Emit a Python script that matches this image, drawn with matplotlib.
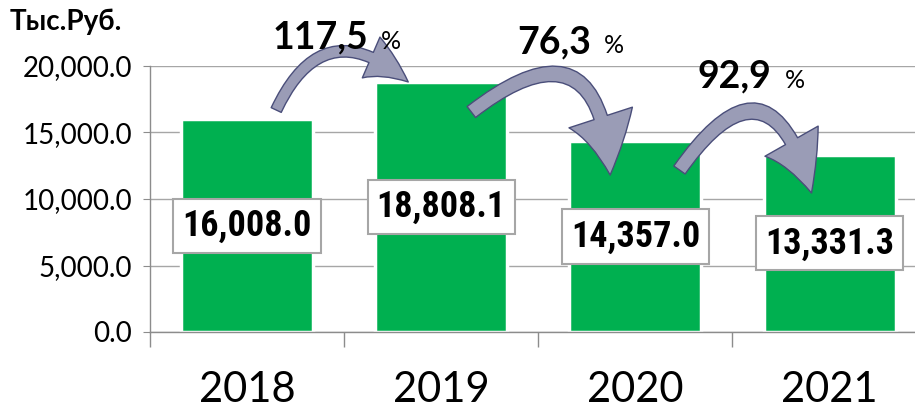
import matplotlib
matplotlib.use("Agg")
import matplotlib.pyplot as plt
from matplotlib import font_manager
from matplotlib.patches import FancyArrowPatch
from matplotlib.ticker import FixedLocator, FuncFormatter

# data
years = ["2018", "2019", "2020", "2021"]
values = [16008.0, 18808.1, 14357.0, 13331.3]
growth = ["117,5", "76,3", "92,9"]
unit_label = "Тыс.Руб."

# fonts
names = {f.name for f in font_manager.fontManager.ttflist}
def pick(*cands):
    for c in cands:
        if c in names:
            return [c, "DejaVu Sans"]
    return ["DejaVu Sans"]

main_font = pick("Lato", "Open Sans")
narrow_font = pick("Liberation Sans Narrow", "DejaVu Sans Condensed", "Roboto Condensed", "Lato")
plt.rcParams["font.family"] = main_font

fig = plt.figure(figsize=(9.15, 4.12), dpi=100)
ax = fig.add_axes([150/915, 80/412, 1 - 150/915, 266/412])

x = list(range(len(years)))
ax.bar(x, values, width=0.68, color="#00B050", edgecolor="white", linewidth=2.5, zorder=2)

ax.set_xlim(-0.5, 3.44)
ax.set_ylim(0, 20000)

# grid / spines
ax.yaxis.grid(True, color="#A6A6A6", linewidth=1, zorder=0)
ax.set_axisbelow(True)
for s in ["top", "right"]:
    ax.spines[s].set_visible(False)
for s in ["left", "bottom"]:
    ax.spines[s].set_color("#8C8C8C")
    ax.spines[s].set_linewidth(1)

ax.set_yticks([0, 5000, 10000, 15000, 20000])
ax.yaxis.set_major_formatter(FuncFormatter(lambda v, p: "{:,.1f}".format(v)))
ax.tick_params(axis="y", length=5, color="#8C8C8C", labelsize=20, pad=8)

ax.set_xticks(x)
ax.set_xticklabels(years, fontsize=30)
ax.tick_params(axis="x", which="major", length=0, pad=28)
ax.xaxis.set_minor_locator(FixedLocator([-0.5, 0.5, 1.5, 2.5]))
ax.tick_params(axis="x", which="minor", length=11, color="#8C8C8C", width=1)

# value labels in white boxes
for xi, v in zip(x, values):
    ax.text(xi, v / 2, "{:,.1f}".format(v), ha="center", va="center",
            fontsize=26, fontweight="bold", family=narrow_font, zorder=4,
            bbox=dict(boxstyle="square,pad=0.25", facecolor="white",
                      edgecolor="#A6A6A6", linewidth=1.5))

# unit label
fig.text(10/915, 1 - 22/412, unit_label, fontsize=20, fontweight="bold",
         ha="left", va="center")

# curved arrows
arrows = [((0.15, 16690), (0.83, 18800), -0.66, 32, 32, 8),
          ((1.155, 16540), (1.87, 11800), -0.95, 42, 48, 10),
          ((2.227, 12180), (2.907, 10450), -1.06, 40, 44, 10)]
for a, b, rad, hl, hw, tw in arrows:
    arr = FancyArrowPatch(a, b, connectionstyle="arc3,rad=%s" % rad,
                          arrowstyle="simple,head_length=%s,head_width=%s,tail_width=%s" % (hl, hw, tw),
                          facecolor="#9A9CB6", edgecolor="#4A4E7A", linewidth=1,
                          shrinkA=0, shrinkB=0, zorder=6, clip_on=False)
    ax.add_patch(arr)

# growth texts
growth_pos = [(0.13, 21300), (1.39, 20950), (2.32, 18350)]
pct_pos = [0.69, 1.84, 2.77]
for g, (gx, gy), px in zip(growth, growth_pos, pct_pos):
    ax.text(gx, gy, g, fontsize=27, fontweight="bold", ha="left", va="baseline",
            clip_on=False, zorder=8)
    ax.text(px, gy, "%", fontsize=18, ha="left", va="baseline", clip_on=False, zorder=8)

fig.savefig("out.png", dpi=100)
